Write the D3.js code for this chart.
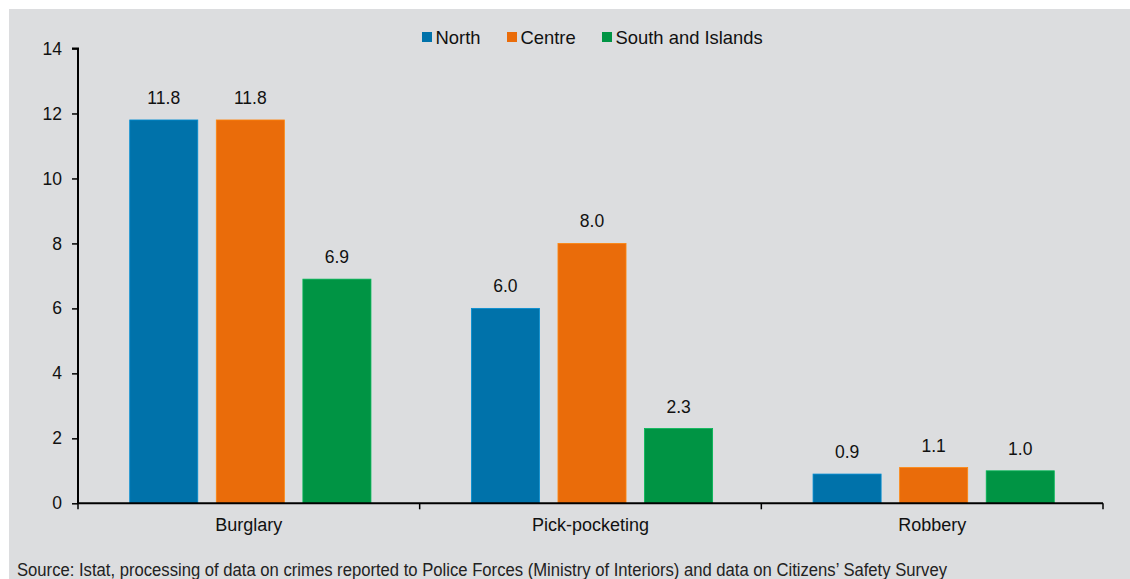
<!DOCTYPE html>
<html><head><meta charset="utf-8">
<script src="https://cdn.jsdelivr.net/npm/d3@7"></script>
<style>body{margin:0;background:#fff}svg{display:block}</style>
</head><body>
<script>
const categories = ["Burglary", "Pick-pocketing", "Robbery"];
const seriesNames = ["North", "Centre", "South and Islands"];
const north = [11.8, 6.0, 0.9];
const centre = [11.8, 8.0, 1.1];
const south = [6.9, 2.3, 1.0];
const yTicks = [0, 2, 4, 6, 8, 10, 12, 14];
const colors = ["#0072AA", "#EA6C0A", "#009444"];
const source = "Source: Istat, processing of data on crimes reported to Police Forces (Ministry of Interiors) and data on Citizens\u2019 Safety Survey";

const seriesValues = [north, centre, south];
const W = 1130, H = 579;
const svg = d3.select("body").append("svg").attr("width", W).attr("height", H);
svg.append("rect").attr("x", 9).attr("y", 9).attr("width", W - 9).attr("height", H - 9).attr("fill", "#DCDDDF");

const x0 = d3.scaleBand().domain(categories).range([78, 1103]).padding(0);
const x1 = d3.scaleBand().domain(seriesNames).range([1.5, x0.bandwidth() + 1.5]).paddingInner(0.214).paddingOuter(0.58);
const y = d3.scaleLinear().domain([0, 14]).range([503.3, 48.5]);

const font = "'Liberation Sans', Arial, sans-serif";

// bars
seriesNames.forEach((s, si) => {
  const g = svg.append("g");
  g.selectAll("rect").data(categories).join("rect")
    .attr("x", c => x0(c) + x1(s))
    .attr("y", (c, i) => y(seriesValues[si][i]))
    .attr("width", x1.bandwidth())
    .attr("height", (c, i) => y(0) - y(seriesValues[si][i]))
    .attr("fill", colors[si])
    .attr("stroke", d3.color(colors[si]).brighter(0.6))
    .attr("stroke-width", 0.8);
  g.selectAll("text").data(categories).join("text")
    .attr("x", c => x0(c) + x1(s) + x1.bandwidth() / 2)
    .attr("y", (c, i) => y(seriesValues[si][i]) - 16)
    .attr("text-anchor", "middle")
    .attr("font-family", font).attr("font-size", 17.5).attr("fill", "#111")
    .text((c, i) => seriesValues[si][i].toFixed(1));
});

// y axis
const yAxis = svg.append("g").attr("transform", "translate(78,0)")
  .call(d3.axisLeft(y).tickValues(yTicks).tickSize(6).tickPadding(10).tickFormat(d3.format("d")));
yAxis.select(".domain").attr("stroke", "#000").attr("stroke-width", 2).attr("d", `M-6,${y(14)}H0V${y(0)}`);
yAxis.selectAll(".tick line").attr("stroke", "#000").attr("stroke-width", 1.5);
yAxis.selectAll(".tick text").attr("font-family", font).attr("font-size", 17.5).attr("fill", "#111");

// x axis
const xAxis = svg.append("g").attr("transform", `translate(0,${y(0)})`)
  .call(d3.axisBottom(x0).tickSize(0).tickPadding(15));
xAxis.select(".domain").attr("stroke", "#000").attr("stroke-width", 2).attr("d", `M78,0H1103`);
xAxis.selectAll(".tick text").attr("font-family", font).attr("font-size", 18).attr("fill", "#111");
const bounds = categories.map(c => x0(c)).concat([x0.range()[1]]);
xAxis.selectAll(".sep").data(bounds).join("line").attr("class", "sep")
  .attr("x1", d => d).attr("x2", d => d).attr("y1", 0).attr("y2", 6)
  .attr("stroke", "#000").attr("stroke-width", 1.5);

// legend
const legendItems = [{x: 422}, {x: 507}, {x: 602}];
const lg = svg.append("g");
seriesNames.forEach((s, i) => {
  lg.append("rect").attr("x", legendItems[i].x).attr("y", 32).attr("width", 10).attr("height", 10).attr("fill", colors[i]);
  lg.append("text").attr("x", legendItems[i].x + 13.5).attr("y", 43.5)
    .attr("font-family", font).attr("font-size", 18.4).attr("fill", "#111").text(s);
});

// source
svg.append("text").attr("x", 17).attr("y", 576)
  .attr("font-family", "'Liberation Sans Narrow', 'Arial Narrow', 'Liberation Sans', sans-serif")
  .attr("font-size", 17.5).attr("fill", "#222")
  .attr("textLength", 930).attr("lengthAdjust", "spacingAndGlyphs")
  .text(source);
</script>
</body></html>
